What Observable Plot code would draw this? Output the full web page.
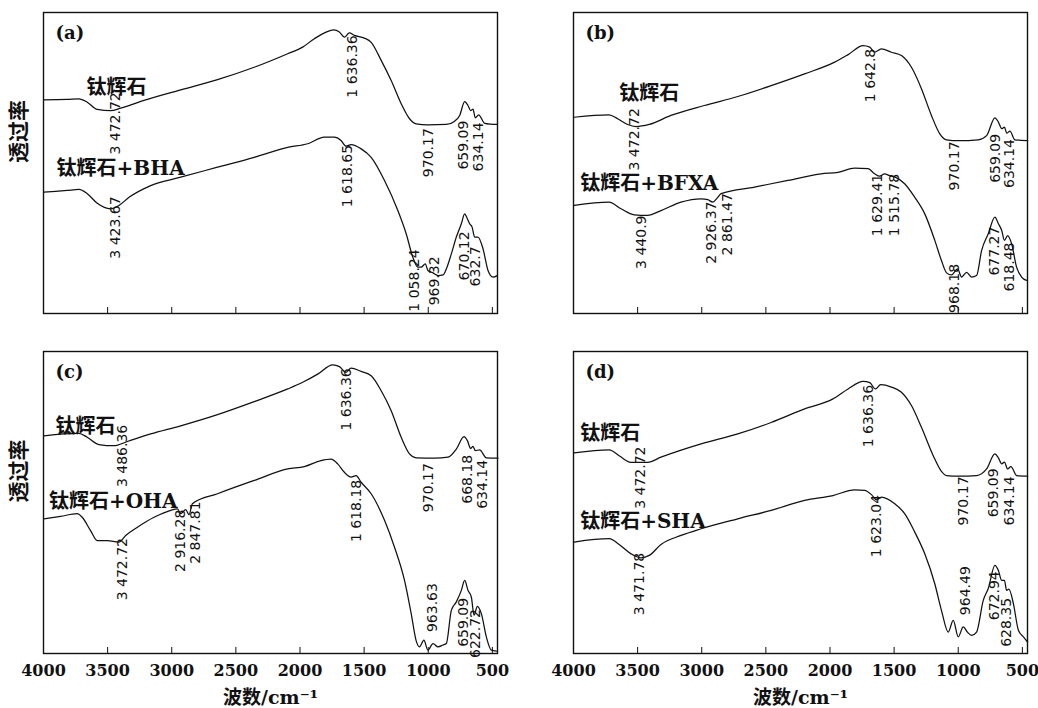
<!DOCTYPE html>
<html><head><meta charset="utf-8">
<script src="https://cdn.jsdelivr.net/npm/d3@7"></script>
<script src="https://cdn.jsdelivr.net/npm/@observablehq/plot@0.6"></script>
<style>
body{margin:0;background:#fff;}
#fig{position:relative;width:1038px;height:708px;overflow:hidden;background:#fff;}
#fig > svg{position:absolute;overflow:visible;}
</style></head><body><div id="fig"></div>
<script>
// ---------- data (wavenumber cm-1, transmittance in arbitrary units) ----------
const xTicks = [4000, 3500, 3000, 2500, 2000, 1500, 1000, 500];

const aMineral = [[3997,71.0],[3815,71.1],[3724,71.3],[3659,70.2],[3581,67.8],[3477,67.4],[3398,68.2],[3216,70.8],[2930,74.3],[2643,77.7],[2357,81.8],[2096,86.3],[1979,88.5],[1888,91.3],[1797,93.5],[1737,94.2],[1693,93.5],[1654,91.8],[1615,93.2],[1576,92.4],[1498,91.5],[1445,90.1],[1367,84.1],[1289,77.4],[1211,69.7],[1146,64.7],[1094,63.0],[1003,62.7],[859,62.8],[794,63.9],[755,65.8],[716,70.4],[690,69.1],[669,67.4],[651,67.9],[633,65.0],[607,66.0],[560,63.2],[460,62.8]];
const aBHA = [[3997,40.3],[3815,40.9],[3724,41.2],[3659,39.8],[3581,36.6],[3477,34.8],[3412,35.9],[3333,38.6],[3164,42.5],[2930,45.3],[2643,48.6],[2357,51.9],[2096,55.2],[1940,56.4],[1810,58.6],[1732,58.6],[1680,57.5],[1641,55.6],[1602,56.1],[1523,54.7],[1445,51.9],[1341,44.2],[1237,34.2],[1172,26.5],[1120,18.7],[1081,15.4],[1055,15.4],[1023,16.5],[1003,14.3],[963,13.5],[924,12.6],[885,12.8],[859,14.8],[820,19.8],[781,25.4],[742,29.8],[716,33.1],[695,31.5],[677,29.8],[658,28.7],[638,25.4],[612,25.4],[573,21.5],[534,14.3],[495,12.1],[461,12.6]];
const aNames = ["钛辉石", "钛辉石+BHA"];
const aNameWn = [3664, 3898];
const aNameT = [74.9, 48.1];
const aPeaks = ["3 472.72", "1 636.36", "970.17", "659.09", "634.14", "1 618.65", "3 423.67", "1 058.24", "969.32", "670.12", "632.7"];
const aPeakWn = [3438, 1588, 997, 722, 605, 1627, 3438, 1107, 951, 716, 630];
const aPeakT = [52.8, 71.7, 45.3, 47.8, 47.2, 35.3, 18.2, 0.6, 2.7, 11, 9];

const bMineral = [[3995,65.2],[3722,66.0],[3656,64.7],[3578,62.8],[3513,62.1],[3409,62.8],[3240,65.8],[2980,69.1],[2719,72.1],[2459,75.7],[2198,79.6],[1964,83.5],[1859,86.0],[1742,89.0],[1690,88.5],[1652,86.8],[1599,87.9],[1521,86.8],[1443,85.7],[1365,81.8],[1287,74.7],[1209,65.8],[1144,59.7],[1091,57.7],[1000,57.4],[844,57.7],[779,59.1],[714,65.0],[687,63.6],[661,61.4],[640,61.9],[622,59.9],[597,60.6],[558,57.7],[459,57.4]];
const bBFXA = [[3995,35.9],[3722,37.0],[3630,34.8],[3527,32.8],[3422,32.6],[3318,34.2],[3162,37.0],[3005,38.1],[2953,37.8],[2914,37.0],[2875,38.6],[2849,39.8],[2589,42.0],[2328,44.2],[2068,46.4],[1937,46.9],[1808,48.3],[1703,48.1],[1652,46.4],[1613,45.6],[1574,46.4],[1535,45.8],[1496,45.4],[1418,43.1],[1339,38.6],[1261,33.1],[1183,24.3],[1131,17.6],[1091,13.5],[1052,12.8],[1005,14.8],[974,12.1],[935,13.7],[896,12.1],[857,12.6],[818,20.9],[766,26.5],[714,32.0],[687,29.8],[661,27.6],[640,24.3],[615,25.9],[584,23.2],[545,15.4],[506,12.1],[467,11.0]];
const bNames = ["钛辉石", "钛辉石+BFXA"];
const bNameWn = [3644, 3948];
const bNameT = [73.0, 43.1];
const bPeaks = ["3 472.72", "1 642.8", "970.17", "659.09", "634.14", "3 440.9", "2 926.37", "2 861.47", "1 629.41", "1 515.78", "968.18", "677.27", "618.48"];
const bPeakWn = [3527, 1684, 1026, 707, 603, 3469, 2927, 2802, 1632, 1495, 1026, 714, 597];
const bPeakT = [47.5, 70.2, 40.9, 43.4, 41.7, 14.8, 16.5, 19.3, 25.7, 25.7, 0.2, 12.6, 7.3];

const cMineral = [[3997,72.1],[3724,72.9],[3659,71.6],[3568,69.2],[3451,68.8],[3346,70.2],[3164,72.7],[2930,75.4],[2643,79.1],[2357,83.4],[2096,87.6],[1979,89.8],[1862,92.5],[1745,95.6],[1693,95.0],[1641,93.1],[1602,94.5],[1523,93.4],[1445,92.0],[1367,87.0],[1289,80.4],[1211,71.6],[1146,66.1],[1094,64.8],[951,64.7],[846,65.0],[781,67.7],[721,71.8],[695,70.5],[669,67.9],[651,68.6],[633,67.2],[599,67.4],[547,64.8],[456,64.7]];
const cOHA = [[3997,44.6],[3867,45.4],[3737,46.3],[3698,45.1],[3633,40.7],[3581,37.4],[3503,37.4],[3412,36.9],[3359,39.1],[3268,41.8],[3138,45.1],[3008,47.4],[2956,47.9],[2930,46.3],[2891,47.6],[2865,46.0],[2839,49.6],[2643,52.9],[2357,57.3],[2096,61.1],[1966,61.9],[1836,63.9],[1758,64.4],[1706,62.8],[1654,60.0],[1602,58.4],[1563,58.9],[1523,56.7],[1445,52.9],[1341,44.1],[1263,35.2],[1185,24.2],[1133,13.2],[1094,4.2],[1068,2.2],[1034,4.4],[1003,1.1],[963,3.3],[924,2.2],[885,2.8],[859,3.3],[820,14.3],[781,17.1],[742,20.9],[716,24.2],[690,20.9],[664,18.7],[643,12.7],[617,15.6],[586,13.2],[547,5.5],[508,1.1],[469,0.8]];
const cNames = ["钛辉石", "钛辉石+OHA"];
const cNameWn = [3906, 3958];
const cNameT = [75.2, 50.4];
const cPeaks = ["3 486.36", "1 636.36", "970.17", "668.18", "634.14", "1 618.18", "3 472.72", "2 916.28", "2 847.81", "963.63", "659.09", "622.72"];
const cPeakWn = [3385, 1634, 997, 690, 573, 1563, 3385, 2930, 2813, 970, 722, 632];
const cPeakT = [55.1, 73.8, 46.8, 49.6, 47.9, 36.9, 17.6, 27.0, 29.7, 7.1, 2.2, -1.5];

const dMineral = [[3995,66.4],[3722,67.4],[3644,65.5],[3552,63.3],[3422,63.3],[3318,65.0],[3005,69.4],[2719,72.7],[2459,76.5],[2198,81.0],[1977,84.3],[1859,87.6],[1742,90.1],[1690,89.7],[1646,87.6],[1605,89.0],[1521,88.2],[1443,86.5],[1365,82.1],[1287,74.9],[1195,65.5],[1131,60.3],[1091,58.9],[1000,58.7],[857,58.9],[779,61.1],[714,66.1],[687,64.8],[661,62.8],[640,63.4],[615,61.1],[589,61.9],[545,58.9],[459,58.7]];
const dSHA = [[3995,36.9],[3722,38.0],[3644,36.1],[3552,33.0],[3474,31.7],[3409,32.5],[3318,36.1],[3162,39.1],[3005,41.3],[2719,44.6],[2459,47.4],[2198,50.7],[1977,52.3],[1808,54.2],[1730,54.0],[1677,52.6],[1638,50.9],[1599,51.8],[1495,49.6],[1418,46.3],[1339,40.2],[1261,33.0],[1183,23.1],[1131,14.3],[1078,7.1],[1039,11.0],[1000,5.5],[961,8.8],[927,7.0],[896,6.0],[857,7.1],[805,17.6],[766,21.5],[714,29.2],[687,27.5],[661,24.2],[640,24.2],[623,20.9],[605,21.3],[570,16.5],[531,7.7],[492,5.5],[459,3.8]];
const dNames = ["钛辉石", "钛辉石+SHA"];
const dNameWn = [3948, 3948];
const dNameT = [72.7, 43.8];
const dPeaks = ["3 472.72", "1 636.36", "970.17", "659.09", "634.14", "1 623.04", "3 471.78", "964.49", "672.94", "628.35"];
const dPeakWn = [3474, 1703, 962, 727, 603, 1638, 3487, 940, 716, 623];
const dPeakT = [47.9, 68.3, 42.4, 45.1, 42.4, 31.9, 12.7, 12.7, 11.0, 2.2];

const panelLetters = ["(a)", "(b)", "(c)", "(d)"];
const xTitle = "波数/cm⁻¹";
const yTitle = "透过率";

// ---------- drawing ----------
const fig = document.getElementById("fig");
const serif = "'DejaVu Serif', 'Noto Sans CJK SC', serif";

function panel(o) {
  const marks = [
    Plot.frame({stroke: "#111", strokeWidth: 1.4}),
    Plot.line(o.s1, {x: d => d[0], y: d => d[1], stroke: "#111", strokeWidth: 1.25, curve: "monotone-x"}),
    Plot.line(o.s2, {x: d => d[0], y: d => d[1], stroke: "#111", strokeWidth: 1.25, curve: "monotone-x"}),
    Plot.axisX({ticks: xTicks, tickSize: 6, dy: -6, tickFormat: () => "", label: null, stroke: "#111"}),
    Plot.text(o.peaks, {x: (d, i) => o.peakWn[i], y: (d, i) => o.peakT[i], text: d => d, rotate: -90,
      textAnchor: "start", lineAnchor: "middle", fontSize: 14, fontFamily: "'DejaVu Sans', sans-serif", fill: "#111"}),
    Plot.text(o.names, {x: (d, i) => o.nameWn[i], y: (d, i) => o.nameT[i], text: d => d,
      textAnchor: "start", lineAnchor: "middle", fontSize: 20, fontWeight: "bold", fontFamily: serif, fill: "#111"}),
    Plot.text([o.letter], {frameAnchor: "top-left", dx: 12, dy: 21, text: d => d, textAnchor: "start",
      lineAnchor: "middle", fontSize: 18, fontWeight: "bold", fontFamily: serif, fill: "#111"})
  ];
  if (o.bottom) {
    marks.push(Plot.axisX({ticks: xTicks, tickSize: 0, tickPadding: 11, tickFormat: d => String(d), label: null,
      fontSize: 16, fontWeight: "bold", fontFamily: serif, fill: "#111"}));
    marks.push(Plot.text([xTitle], {frameAnchor: "bottom", dy: 44, text: d => d, lineAnchor: "middle",
      fontSize: 19, fontWeight: "bold", fontFamily: serif, fill: "#111"}));
  }
  if (o.ylab) {
    marks.push(Plot.text([yTitle], {frameAnchor: "left", dx: -24, rotate: -90, text: d => d, lineAnchor: "middle",
      fontSize: 21, fontWeight: "bold", fontFamily: "'Noto Sans CJK SC', sans-serif", fill: "#111"}));
  }
  const svg = Plot.plot({
    width: o.width, height: o.height,
    marginLeft: o.mL, marginRight: o.mR, marginTop: o.mT, marginBottom: o.mB,
    x: {domain: [4000, 460], axis: null},
    y: {domain: [0, 100], axis: null},
    style: {background: "transparent", fontFamily: serif, overflow: "visible"},
    marks
  });
  svg.style.left = o.left + "px";
  svg.style.top = o.top + "px";
  fig.appendChild(svg);
}

panel({left: 0, top: 0, width: 520, height: 340, mL: 43, mR: 23, mT: 12, mB: 27, letter: panelLetters[0],
  s1: aMineral, s2: aBHA, names: aNames, nameWn: aNameWn, nameT: aNameT, peaks: aPeaks, peakWn: aPeakWn, peakT: aPeakT,
  bottom: false, ylab: true});
panel({left: 520, top: 0, width: 518, height: 340, mL: 53, mR: 11, mT: 12, mB: 27, letter: panelLetters[1],
  s1: bMineral, s2: bBFXA, names: bNames, nameWn: bNameWn, nameT: bNameT, peaks: bPeaks, peakWn: bPeakWn, peakT: bPeakT,
  bottom: false, ylab: false});
panel({left: 0, top: 340, width: 520, height: 368, mL: 43, mR: 23, mT: 11, mB: 55, letter: panelLetters[2],
  s1: cMineral, s2: cOHA, names: cNames, nameWn: cNameWn, nameT: cNameT, peaks: cPeaks, peakWn: cPeakWn, peakT: cPeakT,
  bottom: true, ylab: true});
panel({left: 520, top: 340, width: 518, height: 368, mL: 53, mR: 11, mT: 11, mB: 55, letter: panelLetters[3],
  s1: dMineral, s2: dSHA, names: dNames, nameWn: dNameWn, nameT: dNameT, peaks: dPeaks, peakWn: dPeakWn, peakT: dPeakT,
  bottom: true, ylab: false});
</script></body></html>
